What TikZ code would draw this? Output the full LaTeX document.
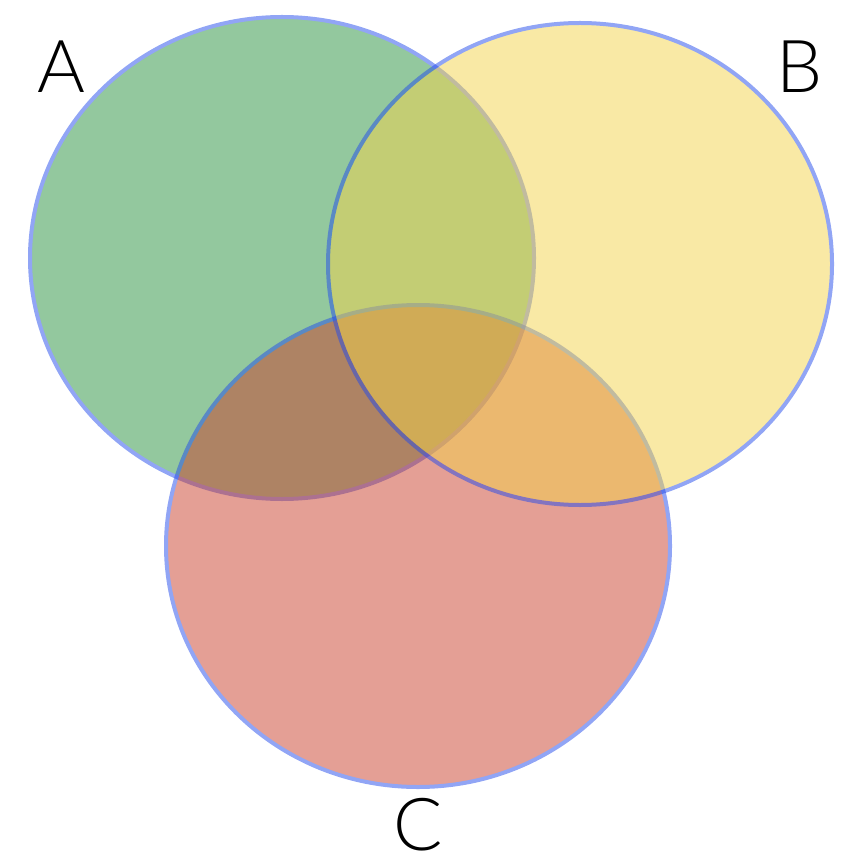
\documentclass[tikz,border=0pt]{standalone}
\usepackage{fontspec}
\setmainfont{Lato}[UprightFont=* Light]
\usetikzlibrary{shapes.geometric}
\definecolor{setA}{RGB}{39,145,61}
\definecolor{setB}{RGB}{243,211,75}
\definecolor{setC}{RGB}{201,63,43}
\definecolor{rim}{RGB}{35,75,235}
\tikzset{
  setshape/.style={ellipse, inner sep=0pt, minimum width=504pt, minimum height=482pt,
    draw=rim, line width=4pt},
  setgroup/.style={transparency group, opacity=0.5},
  setlabel/.style={anchor=base, inner sep=0pt, font=\fontsize{73}{73}\selectfont, text=black}
}
\begin{document}
\begin{tikzpicture}[x=1pt,y=-1pt]
\useasboundingbox (0,0) rectangle (864,866);
\begin{scope}[setgroup]
\node[setshape, fill=setA] (sa) at (282,258) {};
\end{scope}
\begin{scope}[setgroup]
\node[setshape, fill=setC] (sc) at (418,546) {};
\end{scope}
\begin{scope}[setgroup]
\node[setshape, fill=setB] (sb) at (580,264) {};
\end{scope}
\node[setlabel] (la) at (61,93) {A};
\node[setlabel] (lb) at (800,93) {B};
\node[setlabel] (lc) at (418,850) {C};
\end{tikzpicture}
\end{document}
